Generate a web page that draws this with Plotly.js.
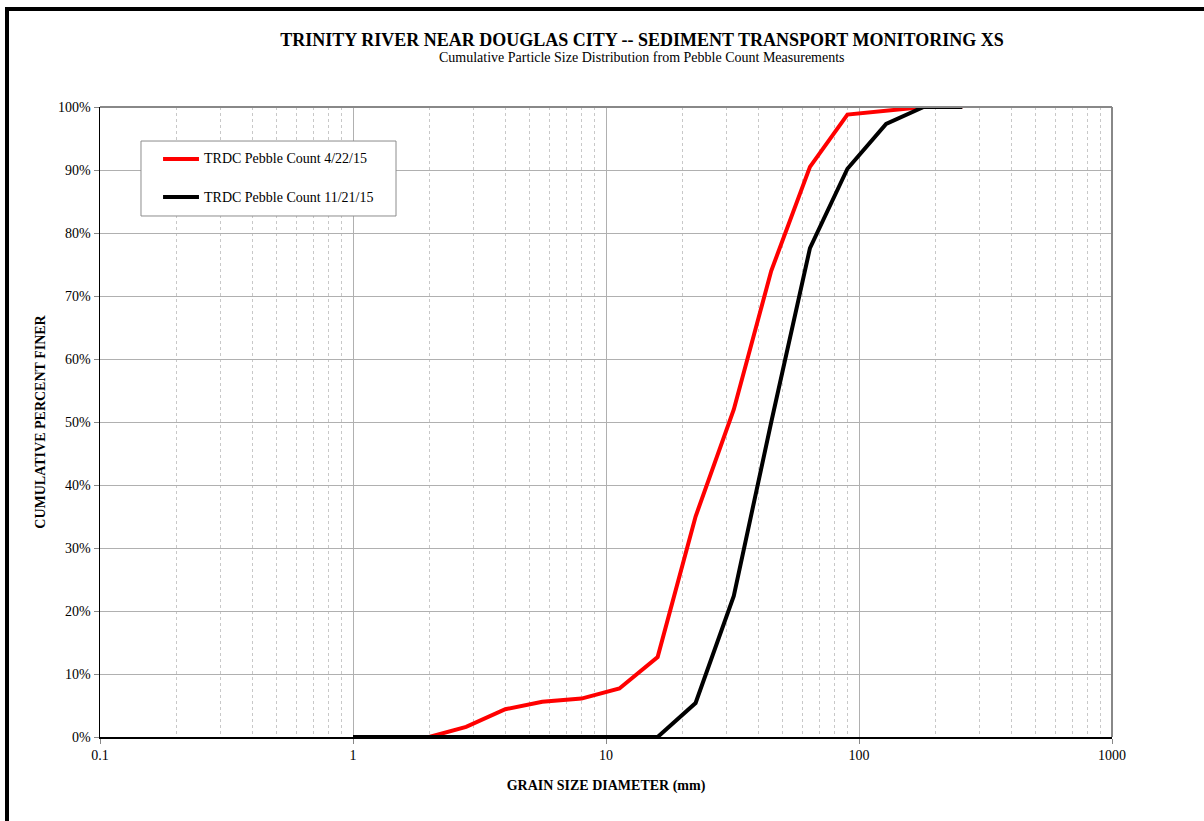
<!DOCTYPE html>
<html>
<head>
<meta charset="utf-8">
<script src="https://cdn.plot.ly/plotly-3.0.1.min.js"></script>
<style>
  html, body { margin: 0; padding: 0; background: #fff; overflow: hidden; }
  #chart { width: 1204px; height: 821px; }
  #frame {
    position: absolute; left: 5px; top: 7px; width: 1400px; height: 1000px;
    border-left: 4px solid #000; border-top: 4px solid #000; pointer-events: none;
  }
</style>
</head>
<body>
<div id="chart"></div>
<div id="frame"></div>
<script>
// Sieve sizes (mm) and cumulative percent finer for each pebble count
const grainSize   = [1, 1.4, 2, 2.8, 4, 5.6, 8, 11.3, 16, 22.6, 32, 45, 64, 90, 128, 180, 256];
const pctFinerApr = [0, 0, 0, 1.6, 4.4, 5.6, 6.1, 7.7, 12.7, 35.0, 52.0, 74.0, 90.5, 98.8, 99.4, 100, 100];
const pctFinerNov = [0, 0, 0, 0, 0, 0, 0, 0, 0, 5.4, 22.4, 50.0, 77.6, 90.2, 97.3, 100, 100];
const seriesNames  = ['TRDC Pebble Count 4/22/15', 'TRDC Pebble Count 11/21/15'];
const seriesColors = ['#ff0000', '#000000'];

const FONT = 'Liberation Serif, Times New Roman, serif';

const traces = [pctFinerApr, pctFinerNov].map((vals, i) => ({
  x: grainSize,
  y: vals,
  type: 'scatter',
  mode: 'lines',
  name: seriesNames[i],
  line: { color: seriesColors[i], width: 4 },
  showlegend: false,
  hoverinfo: 'x+y+name'
}));

// Legend box laid out in paper coordinates
const L = { x0: 0.0405, x1: 0.2925, y0: 0.827, y1: 0.946,
            lineX0: 0.0623, lineX1: 0.0978, textX: 0.1008, rows: [0.9175, 0.857] };

const shapes = [
  // top and right plot borders
  { type: 'line', xref: 'paper', yref: 'paper', x0: 0, x1: 1, y0: 1, y1: 1,
    line: { color: '#888888', width: 2 } },
  { type: 'line', xref: 'paper', yref: 'paper', x0: 1, x1: 1, y0: 0, y1: 1,
    line: { color: '#888888', width: 2 } },
  // legend frame
  { type: 'rect', xref: 'paper', yref: 'paper', x0: L.x0, x1: L.x1, y0: L.y0, y1: L.y1,
    line: { color: '#8c8c8c', width: 1 }, fillcolor: '#ffffff', layer: 'above' }
];
const annotations = [
  { xref: 'paper', yref: 'paper', x: 0.5356, y: 1.079, xanchor: 'center', yanchor: 'middle',
    text: 'Cumulative Particle Size Distribution from Pebble Count Measurements',
    showarrow: false, font: { family: FONT, size: 14, color: '#000' } }
];
seriesNames.forEach((name, i) => {
  shapes.push({ type: 'line', xref: 'paper', yref: 'paper', x0: L.lineX0, x1: L.lineX1,
    y0: L.rows[i], y1: L.rows[i], line: { color: seriesColors[i], width: 4 }, layer: 'above' });
  annotations.push({ xref: 'paper', yref: 'paper', x: L.textX, y: L.rows[i],
    xanchor: 'left', yanchor: 'middle', text: name, showarrow: false,
    font: { family: FONT, size: 14, color: '#000' } });
});

const layout = {
  width: 1204, height: 821,
  margin: { l: 100, r: 92, t: 107, b: 84 },
  paper_bgcolor: '#ffffff', plot_bgcolor: '#ffffff',
  font: { family: FONT, size: 14, color: '#000' },
  title: {
    text: '<b>TRINITY RIVER NEAR DOUGLAS CITY -- SEDIMENT TRANSPORT MONITORING XS</b>',
    font: { family: FONT, size: 18, color: '#000' },
    xref: 'container', x: 642 / 1204, xanchor: 'center',
    yref: 'container', y: 1 - 40 / 821, yanchor: 'middle'
  },
  xaxis: {
    type: 'log', range: [-1, 3], dtick: 1, exponentformat: 'none',
    showline: true, linecolor: '#000', linewidth: 1.5,
    ticks: 'outside', ticklen: 5, tickcolor: '#888', tickwidth: 1,
    tickfont: { family: FONT, size: 14, color: '#000' },
    showgrid: true, gridcolor: '#b0b0b0', gridwidth: 1,
    minor: { dtick: 'D1', showgrid: true, gridcolor: '#c8c8c8', griddash: 'dot', gridwidth: 1, ticks: '' },
    zeroline: false, fixedrange: true,
    title: { text: '<b>GRAIN SIZE DIAMETER (mm)</b>', standoff: 18,
             font: { family: FONT, size: 14, color: '#000' } }
  },
  yaxis: {
    range: [0, 100], dtick: 10, ticksuffix: '%',
    showline: true, linecolor: '#000', linewidth: 1.5,
    ticks: 'outside', ticklen: 5, tickcolor: '#888', tickwidth: 1,
    tickfont: { family: FONT, size: 14, color: '#000' },
    showgrid: true, gridcolor: '#b0b0b0', gridwidth: 1,
    zeroline: false, fixedrange: true,
    title: { text: '<b>CUMULATIVE PERCENT FINER</b>', standoff: 9,
             font: { family: FONT, size: 14, color: '#000' } }
  },
  shapes: shapes,
  annotations: annotations,
  showlegend: false
};

Plotly.newPlot('chart', traces, layout, { displayModeBar: false, staticPlot: true });
</script>
</body>
</html>
